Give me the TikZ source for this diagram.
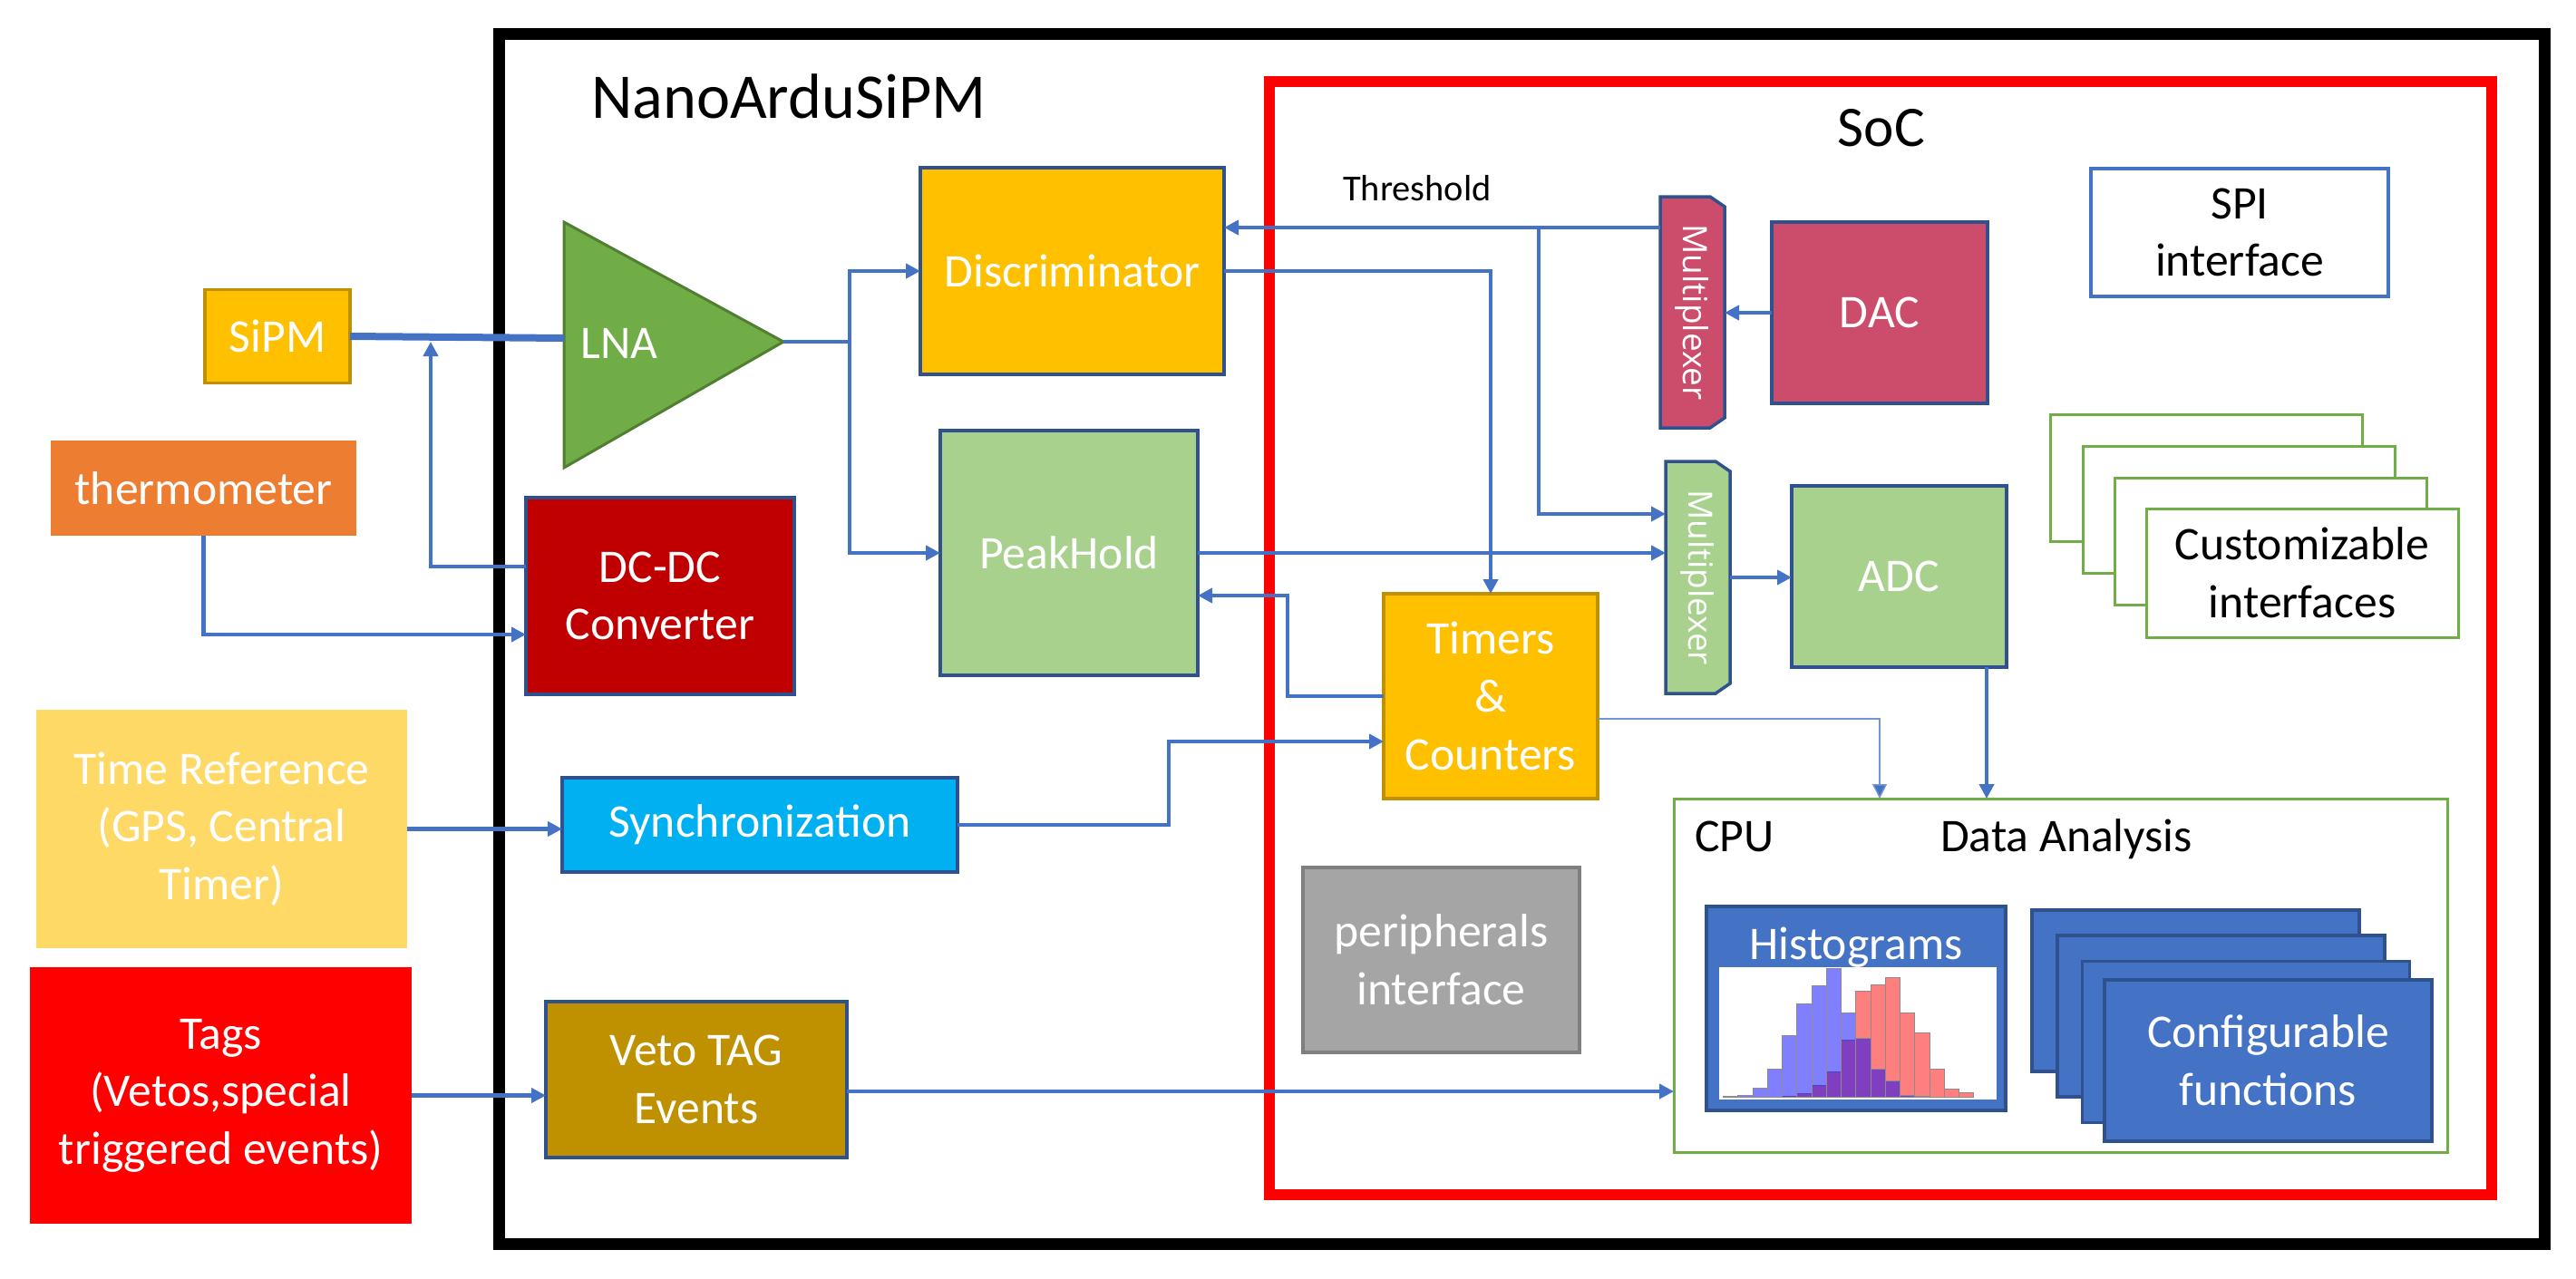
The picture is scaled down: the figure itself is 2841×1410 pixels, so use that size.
\documentclass[tikz,border=0pt]{standalone}
\usepackage{fontspec}
\setmainfont{Carlito}
\newfontfamily\muxfont{Open Sans}
\usetikzlibrary{arrows.meta}
\definecolor{gold}{HTML}{FFC000}
\definecolor{golddk}{HTML}{BF9000}
\definecolor{lnagreen}{HTML}{70AD47}
\definecolor{lnadk}{HTML}{507E32}
\definecolor{thermo}{HTML}{ED7D31}
\definecolor{dcred}{HTML}{C00000}
\definecolor{dkblue}{HTML}{2F528F}
\definecolor{lightyel}{HTML}{FFD966}
\definecolor{tagred}{HTML}{FF0000}
\definecolor{syncblue}{HTML}{00B0F0}
\definecolor{vetocol}{HTML}{BF9000}
\definecolor{lgreen}{HTML}{A9D18E}
\definecolor{muxred}{HTML}{CC4D6B}
\definecolor{grayfill}{HTML}{A5A5A5}
\definecolor{graydk}{HTML}{7F7F7F}
\definecolor{accent}{HTML}{4472C4}
\begin{document}
\begin{tikzpicture}[x=0.1mm,y=-0.1mm,
  box/.style={rectangle, line width=0.35mm, inner sep=0pt, outer sep=0pt, align=center,
    text=white, font=\fontsize{14.7}{18.1}\selectfont},
  lbl/.style={inner sep=0pt, outer sep=0pt, font=\fontsize{14.7}{18.1}\selectfont},
  conn/.style={draw=accent, line width=0.45mm, -{Triangle[length=1.6mm,width=1.6mm]}},
  thinconn/.style={draw=accent!75, line width=0.15mm, -{Triangle[length=1.6mm,width=1.6mm,fill=accent]}},
  plainconn/.style={draw=accent, line width=0.45mm},
  muxtxt/.style={rotate=-90, text=white, inner sep=0pt, font=\muxfont\fontsize{10.5}{12}\selectfont},
  stackc/.style={box, fill=white, draw=lnagreen, line width=0.3mm, minimum width=34.4mm, minimum height=14mm, text=black},
  stackf/.style={box, fill=accent, draw=dkblue, minimum width=36.1mm, minimum height=17.8mm}
]
\useasboundingbox (0,0) rectangle (2841,1410);

% frames
\draw[line width=1.3mm, black] (550,37) rectangle (2806,1372);
\draw[line width=1.2mm, tagred] (1400,90) rectangle (2748,1318);

\node[lbl, anchor=base, font=\fontsize{20}{24}\selectfont] (title) at (870,130) {NanoArduSiPM};
\node[lbl, anchor=base, font=\fontsize{18}{22}\selectfont] (soc) at (2075,161) {SoC};
\node[lbl, anchor=base, font=\fontsize{11.5}{14}\selectfont] (thrlbl) at (1563,221) {Threshold};

% external blocks
\node[box, fill=gold, draw=golddk, minimum width=16mm, minimum height=10.3mm] (sipm) at (306,371) {SiPM};
\node[box, fill=thermo, minimum width=33.7mm, minimum height=10.5mm] (therm) at (224.5,538.5) {thermometer};
\node[box, fill=lightyel, minimum width=40.9mm, minimum height=26.3mm] (timeref) at (244.5,914.5) {Time Reference\\(GPS, Central\\Timer)};
\node[box, fill=tagred, minimum width=42.1mm, minimum height=28.3mm] (tags) at (243.5,1208.5) {Tags\\(Vetos,special\\triggered events)};

% LNA
\draw[fill=lnagreen, draw=lnadk, line width=0.3mm] (622,245) -- (864,377) -- (622,516) -- cycle;
\coordinate (lnaIn) at (622,373);
\coordinate (lnaOut) at (864,377);
\coordinate (split) at (937,377);
\node[lbl, text=white] (lna) at (683,379) {LNA};

% NanoArduSiPM blocks
\node[box, fill=dcred, draw=dkblue, minimum width=29.6mm, minimum height=21.7mm] (dcdc) at (728,657.5) {DC-DC\\Converter};
\node[box, fill=syncblue, draw=dkblue, minimum width=43.6mm, minimum height=10.4mm] (sync) at (838,910) {Synchronization};
\node[box, fill=vetocol, draw=dkblue, minimum width=33.2mm, minimum height=17.2mm] (veto) at (768,1191) {Veto TAG\\Events};
\node[box, fill=gold, draw=dkblue, minimum width=33.5mm, minimum height=22.8mm] (disc) at (1182.5,299) {Discriminator};
\node[box, fill=lgreen, draw=dkblue, minimum width=28.4mm, minimum height=27mm] (peak) at (1179,610) {PeakHold};

% SoC blocks
\node[box, fill=gold, draw=golddk, minimum width=23.6mm, minimum height=22.6mm] (timers) at (1644,768) {Timers\\\&\\Counters};
\node[box, fill=grayfill, draw=graydk, minimum width=30.5mm, minimum height=20.4mm] (periph) at (1589.5,1059) {peripherals\\interface};
\node[box, fill=muxred, draw=dkblue, minimum width=23.8mm, minimum height=20mm] (dac) at (2073,345) {DAC};
\node[box, fill=lgreen, draw=dkblue, minimum width=23.7mm, minimum height=20mm] (adc) at (2094.5,636) {ADC};
\node[box, fill=white, draw=accent, minimum width=32.8mm, minimum height=14.1mm, text=black] (spi) at (2470,256.5) {SPI\\interface};

% multiplexers
\node[rectangle, inner sep=0pt, outer sep=0pt, minimum width=7.1mm, minimum height=25.5mm] (mux1) at (1866.5,344.5) {};
\draw[fill=muxred, draw=dkblue, line width=0.35mm] (mux1.north west) -- ([xshift=-1.6mm]mux1.north east) -- ([yshift=-1.1mm]mux1.north east) -- ([yshift=1.1mm]mux1.south east) -- ([xshift=-1.6mm]mux1.south east) -- (mux1.south west) -- cycle;
\node[muxtxt] (mux1t) at (mux1) {Multiplexer};
\node[rectangle, inner sep=0pt, outer sep=0pt, minimum width=7.1mm, minimum height=25.6mm] (mux2) at (1872.5,637) {};
\draw[fill=lgreen, draw=dkblue, line width=0.35mm] (mux2.north west) -- ([xshift=-1.6mm]mux2.north east) -- ([yshift=-1.1mm]mux2.north east) -- ([yshift=1.1mm]mux2.south east) -- ([xshift=-1.6mm]mux2.south east) -- (mux2.south west) -- cycle;
\node[muxtxt] (mux2t) at (mux2) {Multiplexer};

% customizable interfaces
\node[stackc] (cust1) at (2433,527) {};
\node[stackc] (cust2) at (2469,562) {};
\node[stackc] (cust3) at (2504.5,597) {};
\node[stackc, minimum height=14.2mm] (cust4) at (2539,632) {Customizable\\interfaces};

% CPU
\node[box, fill=white, draw=lnagreen, line width=0.3mm, minimum width=85.3mm, minimum height=39mm] (cpu) at (2272.5,1076) {};
\node[lbl, anchor=base west] (cpulbl) at (1869,939) {CPU};
\node[lbl, anchor=base] (dalbl) at (2279,939) {Data Analysis};

% histograms
\node[box, fill=accent, draw=dkblue, minimum width=33mm, minimum height=22.5mm] (hist) at (2047,1112.5) {};
\node[lbl, anchor=base, text=white] (histlbl) at (2047,1058) {Histograms};
\fill[white] (1896,1067) rectangle (2202,1213);
\foreach \k/\h in {4/0.7,5/3.3,6/12.3,7/27.7,8/62.3,9/116.7,10/123.3,11/131.7,12/92.7,13/70.7,14/31,15/9,16/4.3}
  \draw[fill=red, fill opacity=0.5, draw=black!45, line width=0.06mm] ({1900.5+\k*16.25},1210) rectangle ++(16.25,-\h);
\foreach \k/\h in {0/1,1/1.7,2/10,3/30.7,4/67.7,5/102.3,6/122.7,7/141.7,8/92.7,9/65,10/30.7,11/17.3,12/1.7,13/0.7}
  \draw[fill=blue, fill opacity=0.5, draw=black!45, line width=0.06mm] ({1900.5+\k*16.25},1210) rectangle ++(16.25,-\h);

% configurable functions
\node[stackf] (cfg1) at (2421.5,1093) {};
\node[stackf] (cfg2) at (2449.5,1121) {};
\node[stackf] (cfg3) at (2477,1149.5) {};
\node[stackf] (cfg4) at (2501.5,1170) {Configurable\\functions};

% connectors
\draw[plainconn, line width=0.8mm] (sipm.east) -- (lnaIn);
\draw[plainconn] (lnaOut) -- (split);
\draw[conn] (split) |- (disc.west);
\draw[conn] (split) |- (peak.west);
\coordinate (fbTop) at (475,377);
\draw[conn] ([yshift=3.25mm]dcdc.west) -| (fbTop);
\draw[conn] (therm.south) |- ([yshift=-4.25mm]dcdc.west);
\draw[conn] (timeref.east) -- (timeref.east -| sync.west);
\draw[conn] (tags.east) -- (tags.east -| veto.west);
\coordinate (syncBend) at (1289,818);
\draw[conn] (sync.east) -| (syncBend) -- (syncBend -| timers.west);
\coordinate (vetoOut) at ([yshift=-1.3mm]veto.east);
\draw[conn] (vetoOut) -- (vetoOut -| cpu.west);
\draw[conn] (disc.east) -| (timers.north);
\coordinate (thr) at ([yshift=9.35mm]mux1.west);
\draw[conn] (thr) -- (thr -| disc.east);
\coordinate (thrB) at (1697,251);
\draw[conn] (thrB) |- ([yshift=7mm]mux2.west);
\draw[conn] (peak.east) -- (peak.east -| mux2.west);
\coordinate (tpB) at (1420,657);
\draw[conn] (timers.west) -| (tpB) -- (tpB -| peak.east);
\draw[conn] (dac.west) -- (dac.west -| mux1.east);
\draw[conn] (mux2.east) -- (mux2.east -| adc.west);
\coordinate (adcOut) at ([xshift=9.65mm]adc.south);
\draw[conn] (adcOut) -- (adcOut |- cpu.north);
\coordinate (cpuT) at ([xshift=-19.95mm]cpu.north);
\draw[thinconn] ([yshift=-2.5mm]timers.east) -| (cpuT);
\end{tikzpicture}
\end{document}
